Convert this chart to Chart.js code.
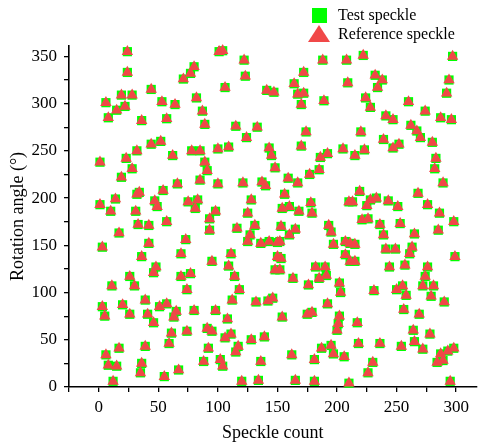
<!DOCTYPE html>
<html><head><meta charset="utf-8">
<script src="https://cdn.jsdelivr.net/npm/chart.js@4.4.1/dist/chart.umd.min.js"></script>
<style>html,body{margin:0;padding:0;background:#fff}#wrap{width:483px;height:447px}</style>
</head><body><div id="wrap"><canvas id="c" width="483" height="447"></canvas></div>
<script>
const speckleCount=[24,24,6,19,28,22,15,8,36,32,1,23,28,19,32,34,14,1,10,31,
17,3,36,26,30,11,20,26,3,5,17,6,8,15,12,33,
80,77,71,44,82,53,64,87,57,89,44,52,62,78,85,89,91,85,66,54,47,49,75,83,81,
42,57,93,93,73,42,69,48,46,69,77,95,74,39,51,57,65,63,41,46,80,61,74,91,95,59,39,92,88,67,36,35,55,
101,104,122,123,106,141,147,115,133,124,100,109,143,145,148,100,121,137,140,128,98,125,
116,131,127,125,136,143,150,111,109,114,150,148,118,112,132,142,146,98,108,106,111,128,139,117,115,102,104,136,120,134,
188,208,172,209,164,172,167,170,189,174,170,205,186,192,185,177,159,167,156,178,160,168,179,154,210,
153,165,160,193,195,197,207,152,153,152,207,211,182,190,185,191,163,176,202,203,192,154,175,179,202,201,200,187,195,197,206,181,162,165,181,210,
222,297,232,238,234,294,292,224,228,260,274,241,247,287,296,262,267,270,280,220,239,247,252,223,215,283,282,289,268,276,219,213,228,233,225,243,251,286,
221,226,298,236,253,285,239,265,211,215,241,249,263,261,215,244,257,276,299,274,272,281,279,255,250,258,231,290,256,269,217,264,278,218,236,254,265,272,287,293,298,284,289,230,226,295];
const testAngle=[355,333,301,309,309,297,293,285,282,250,238,242,231,222,204,206,199,193,186,186,
163,148,138,117,107,107,87,77,85,75,41,34,23,22,6,172,
339,332,326,315,306,302,299,292,284,278,257,260,245,250,250,238,229,219,215,208,197,191,196,198,189,
171,175,178,166,156,152,141,127,121,117,120,133,103,92,85,88,80,74,77,68,81,57,59,62,59,46,43,41,27,18,25,15,11,
355,356,346,329,317,314,312,276,275,264,252,254,253,245,232,215,216,217,213,198,186,184,
168,171,161,154,152,154,153,141,128,117,138,124,103,92,90,91,94,81,72,52,56,50,53,43,37,29,22,27,6,7,
346,346,333,322,321,311,310,299,303,270,255,252,243,247,230,225,221,216,204,195,191,186,184,189,196,
170,167,161,171,164,151,154,154,136,124,140,133,127,127,115,118,115,108,110,100,88,74,77,79,75,67,60,41,44,35,32,29,34,7,6,4,
351,350,330,325,317,325,311,306,296,302,292,287,283,285,283,277,271,264,259,270,262,253,257,251,245,242,231,216,205,193,207,196,198,200,192,197,191,184,
177,178,175,172,173,166,161,162,152,151,146,146,148,141,133,127,129,127,138,117,107,107,96,107,103,97,102,90,82,77,68,60,56,46,46,43,48,40,35,38,41,26,28,26,15,6];
const referenceAngle=[355,333,301,309,309,297,293,285,282,250,238,242,231,222,204,206,199,193,186,186,
163,148,138,117,107,107,87,77,85,75,41,34,23,22,6,172,
339,332,326,315,306,302,299,292,284,278,257,260,245,250,250,238,229,219,215,208,197,191,196,198,189,
171,175,178,166,156,152,141,127,121,117,120,133,103,92,85,88,80,74,77,68,81,57,59,62,59,46,43,41,27,18,25,15,11,
355,356,346,329,317,314,312,276,275,264,252,254,253,245,232,215,216,217,213,198,186,184,
168,171,161,154,152,154,153,141,128,117,138,124,103,92,90,91,94,81,72,52,56,50,53,43,37,29,22,27,6,7,
346,346,333,322,321,311,310,299,303,270,255,252,243,247,230,225,221,216,204,195,191,186,184,189,196,
170,167,161,171,164,151,154,154,136,124,140,133,127,127,115,118,115,108,110,100,88,74,77,79,75,67,60,41,44,35,32,29,34,7,6,4,
351,350,330,325,317,325,311,306,296,302,292,287,283,285,283,277,271,264,259,270,262,253,257,251,245,242,231,216,205,193,207,196,198,200,192,197,191,184,
177,178,175,172,173,166,161,162,152,151,146,146,148,141,133,127,129,127,138,117,107,107,96,107,103,97,102,90,82,77,68,60,56,46,46,43,48,40,35,38,41,26,28,26,15,6];
const xTickLabels=[0,50,100,150,200,250,300];
const yTickLabels=[0,50,100,150,200,250,300,350];
const seriesNames=['Test speckle','Reference speckle'];
const xTitle='Speckle count';
const yTitle='Rotation angle (°)';

const SERIF='"Liberation Serif","Times New Roman",serif';
const testColor='#00FF00', refColor='#F04848';

const legendPlugin={id:'customLegend',afterDraw(chart){
  const ctx=chart.ctx; ctx.save();
  ctx.fillStyle=testColor; ctx.fillRect(312,8,15,15);
  ctx.fillStyle=refColor; ctx.beginPath(); ctx.moveTo(319,25); ctx.lineTo(330,42); ctx.lineTo(308,42); ctx.closePath(); ctx.fill();
  ctx.fillStyle='#000'; ctx.font='16px '+SERIF; ctx.textBaseline='middle'; ctx.textAlign='left';
  ctx.fillText(seriesNames[0],338,16); ctx.fillText(seriesNames[1],338,35);
  ctx.restore();
}};

function minorTicks(scale){
  const t=[]; for(let v=Math.ceil(scale.min/25)*25; v<=scale.max; v+=25) t.push({value:v});
  scale.ticks=t;
}

new Chart(document.getElementById('c'),{
  type:'scatter',
  data:{datasets:[
    {label:seriesNames[1],data:speckleCount.map((x,i)=>({x:x,y:referenceAngle[i]})),pointStyle:'triangle',pointRadius:6.6,pointHoverRadius:6.6,backgroundColor:refColor,borderWidth:0,order:0,clip:false},
    {label:seriesNames[0],data:speckleCount.map((x,i)=>({x:x,y:testAngle[i]})),pointStyle:'rect',pointRadius:6.5,pointHoverRadius:6.5,backgroundColor:testColor,borderWidth:0,order:1,clip:false}
  ]},
  options:{
    responsive:false,animation:false,devicePixelRatio:1,
    layout:{padding:{top:46,right:2,left:0,bottom:0}},
    plugins:{legend:{display:false},tooltip:{enabled:false}},
    scales:{
      x:{type:'linear',min:-25,max:317,
        afterBuildTicks:minorTicks,
        afterFit(s){s.height=60;},
        grid:{drawOnChartArea:false,drawTicks:true,tickLength:5,color:'#000',lineWidth:1.3},
        border:{display:true,color:'#000',width:1.6},
        ticks:{color:'#000',padding:5,font:{family:SERIF,size:17},maxRotation:0,autoSkip:false,
          callback:v=>xTickLabels.includes(v)?String(v):''},
        title:{display:true,text:xTitle,color:'#000',font:{family:SERIF,size:18},padding:{bottom:3,top:0}}
      },
      y:{type:'linear',min:0,max:361,
        afterBuildTicks:minorTicks,
        afterFit(s){s.width=69;},
        grid:{drawOnChartArea:false,drawTicks:true,tickLength:5,color:'#000',lineWidth:1.3},
        border:{display:true,color:'#000',width:1.6},
        ticks:{color:'#000',padding:7,font:{family:SERIF,size:17},autoSkip:false,
          callback:v=>yTickLabels.includes(v)?String(v):''},
        title:{display:true,text:yTitle,color:'#000',font:{family:SERIF,size:18},padding:{top:7,bottom:0}}
      }
    }
  },
  plugins:[legendPlugin]
});
</script></body></html>
